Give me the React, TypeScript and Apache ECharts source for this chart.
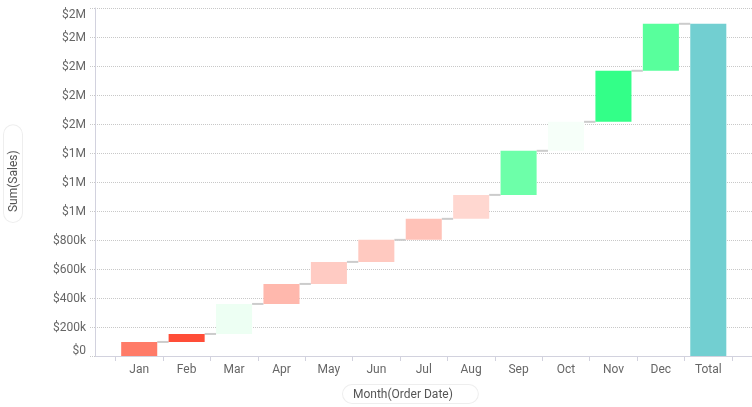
import React, { useEffect, useRef } from "react";
import * as echarts from "echarts";

const months = ["Jan", "Feb", "Mar", "Apr", "May", "Jun", "Jul", "Aug", "Sep", "Oct", "Nov", "Dec"];
const totalLabel = "Total";
const monthlySales = [97000, 55000, 207000, 138000, 152000, 152000, 145000, 165000, 304000, 200000, 352000, 324000];
const yMax = 2400000;
const yInterval = 200000;

const barColors = [
  "#ff7b68", "#ff4d38", "#edfff3", "#ffb8ad", "#ffcbc3", "#ffc9c0",
  "#ffc2b8", "#ffd7d0", "#6dffa9", "#f6fff9", "#33ff88", "#58ff9c", "#72cfd1",
];

const FONT = "Roboto";
const LABEL_COLOR = "#666";
const AXIS_COLOR = "#d2d2de";
const GRID_COLOR = "#c8c8c8";

function fmt(v: number): string {
  if (v >= 1e6) return "$" + Math.round(v / 1e6) + "M";
  if (v >= 1000) return "$" + Math.round(v / 1000) + "k";
  return "$" + v;
}

export default function App() {
  const ref = useRef<HTMLDivElement>(null);
  useEffect(() => {
    if (!ref.current) return;
    const chart = echarts.init(ref.current, null, { renderer: "svg" });
    const categories = [...months, totalLabel];
    const data: number[][] = [];
    let cum = 0;
    monthlySales.forEach((v, i) => {
      data.push([i, cum, cum + v]);
      cum += v;
    });
    data.push([months.length, 0, cum]);
    const lastIndex = data.length - 1;

    chart.setOption({
      animation: false,
      grid: [
        { left: 95, right: 0, top: 8, bottom: 51 },
        { left: 115.5, right: 20, top: 8, bottom: 51 },
      ],
      xAxis: [
        {
          gridIndex: 0, type: "value", min: 0, max: 1,
          axisLine: { show: true, lineStyle: { color: AXIS_COLOR, width: 1 } },
          axisTick: { show: false }, axisLabel: { show: false }, splitLine: { show: false },
        },
        {
          gridIndex: 1, type: "category", data: categories, boundaryGap: true,
          axisLine: { show: false },
          axisTick: { show: true, length: 5, lineStyle: { color: AXIS_COLOR } },
          axisLabel: { margin: 7, color: LABEL_COLOR, fontFamily: FONT, fontSize: 12 },
          splitLine: { show: false },
        },
      ],
      yAxis: [
        {
          gridIndex: 0, type: "value", min: 0, max: yMax, interval: yInterval,
          axisLine: { show: true, lineStyle: { color: AXIS_COLOR } },
          axisTick: { show: true, length: 5, lineStyle: { color: GRID_COLOR, type: "dotted" } },
          axisLabel: {
            margin: 9, color: LABEL_COLOR, fontFamily: FONT, fontSize: 12,
            formatter: (v: number) => fmt(v),
            verticalAlignMaxLabel: "top", verticalAlignMinLabel: "bottom",
          },
          splitLine: { show: true, lineStyle: { color: GRID_COLOR, type: "dotted", width: 1 } },
        },
        {
          gridIndex: 1, type: "value", min: 0, max: yMax, interval: yInterval,
          show: false, splitLine: { show: false },
        },
      ],
      series: [
        {
          type: "custom",
          xAxisIndex: 1, yAxisIndex: 1,
          encode: { x: 0, y: [1, 2] },
          data,
          renderItem: (params: any, api: any) => {
            const x = api.value(0);
            const start = api.value(1);
            const end = api.value(2);
            const p0 = api.coord([x, start]);
            const p1 = api.coord([x, end]);
            const bw = api.size([1, 0])[0] * 0.76;
            const children: any[] = [];
            if (params.dataIndex < lastIndex) {
              const pn = api.coord([x + 1, end]);
              children.push({
                type: "line",
                shape: { x1: p0[0] + bw / 2, y1: p1[1], x2: pn[0] - bw / 2, y2: p1[1] },
                style: { stroke: "#cccccc", lineWidth: 2 },
              });
            }
            children.push({
              type: "rect",
              shape: { x: p0[0] - bw / 2, y: p1[1], width: bw, height: p0[1] - p1[1] },
              style: { fill: barColors[params.dataIndex] },
            });
            return { type: "group", children };
          },
        },
      ],
      graphic: [
        {
          type: "text",
          x: 343, y: 385,
          style: {
            text: "Month(Order Date)", fontFamily: FONT, fontSize: 12, fill: "#555",
            align: "left", verticalAlign: "top",
            padding: [3, 25, 3, 10], borderColor: "#eeeeee", borderWidth: 1, borderRadius: 10,
            backgroundColor: "#fff",
          },
        },
        {
          type: "text",
          x: 4, y: 222,
          rotation: Math.PI / 2,
          style: {
            text: "Sum(Sales)", fontFamily: FONT, fontSize: 12, fill: "#555",
            align: "left", verticalAlign: "top",
            padding: [3, 25, 3, 10], borderColor: "#eeeeee", borderWidth: 1, borderRadius: 10,
            backgroundColor: "#fff",
          },
        },
      ],
    });
    return () => chart.dispose();
  }, []);
  return <div ref={ref} style={{ position: "fixed", left: 0, top: 0, width: 752, height: 407 }} />;
}
